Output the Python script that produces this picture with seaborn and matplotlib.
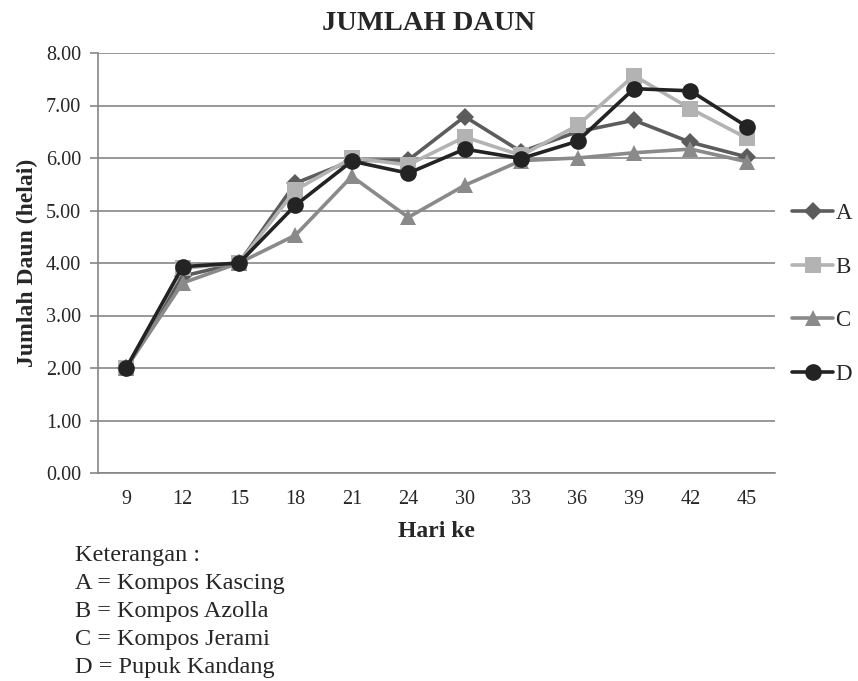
import matplotlib
matplotlib.use('Agg')
import pandas as pd
import seaborn as sns
import matplotlib.pyplot as plt
from matplotlib.ticker import FormatStrFormatter, MultipleLocator

# data
hari = ['9', '12', '15', '18', '21', '24', '30', '33', '36', '39', '42', '45']
a_vals = [2.00, 3.75, 4.00, 5.52, 5.95, 5.96, 6.79, 6.12, 6.50, 6.72, 6.30, 6.02]
b_vals = [2.00, 3.90, 4.00, 5.39, 6.00, 5.87, 6.40, 6.05, 6.62, 7.57, 6.94, 6.38]
c_vals = [2.00, 3.62, 4.00, 4.53, 5.65, 4.87, 5.48, 5.95, 6.00, 6.10, 6.17, 5.93]
d_vals = [2.00, 3.93, 4.00, 5.10, 5.94, 5.71, 6.17, 5.99, 6.32, 7.32, 7.28, 6.60]
series = ['A', 'B', 'C', 'D']
keterangan = ['Keterangan :', 'A = Kompos Kascing', 'B = Kompos Azolla',
              'C = Kompos Jerami', 'D = Pupuk Kandang']

df = pd.DataFrame({
    'Hari': hari * 4,
    'Jumlah': a_vals + b_vals + c_vals + d_vals,
    'Perlakuan': [s for s in series for _ in hari],
})

colors = {'A': '#5c5c5c', 'B': '#b3b3b3', 'C': '#8a8a8a', 'D': '#232323'}
markers = {'A': 'D', 'B': 's', 'C': '^', 'D': 'o'}
msizes = {'A': 9.5, 'B': 11, 'C': 11.5, 'D': 12}

sns.set_style('white')
plt.rcParams['font.family'] = ['Liberation Serif', 'DejaVu Serif']

fig = plt.figure(figsize=(8.58, 6.81), dpi=100)
ax = fig.add_axes([98/858, 1 - 473/681, (775-98)/858, (473-53)/681])

for s in series:
    sub = df[df['Perlakuan'] == s]
    sns.lineplot(data=sub, x='Hari', y='Jumlah', ax=ax, color=colors[s],
                 marker=markers[s], markersize=msizes[s], linewidth=2.6,
                 markeredgewidth=0, markeredgecolor=colors[s], label=s, sort=False)

ax.set_xlim(-0.5, len(hari) - 0.5)
ax.set_ylim(0, 8)
ax.yaxis.set_major_locator(MultipleLocator(1))
ax.yaxis.set_major_formatter(FormatStrFormatter('%.2f'))
ax.yaxis.grid(True, color='#868686', linewidth=1.2)
ax.set_axisbelow(True)
for sp in ['top', 'right']:
    ax.spines[sp].set_visible(False)
for sp in ['left', 'bottom']:
    ax.spines[sp].set_color('#868686')
    ax.spines[sp].set_linewidth(1.2)
ax.tick_params(axis='y', length=6, width=1.2, color='#868686', labelsize=14.5, pad=6, left=True)
ax.tick_params(axis='x', length=0, labelsize=14.5, pad=12)

ax.set_xlabel('Hari ke', fontsize=17, fontweight='bold', labelpad=9)
ax.set_ylabel('Jumlah Daun (helai)', fontsize=17, fontweight='bold', labelpad=6)
fig.text(0.5, 1 - 30/681, 'JUMLAH DAUN', ha='center', va='baseline',
         fontsize=20.5, fontweight='bold')

handles, labels = ax.get_legend_handles_labels()
ax.legend(handles, labels, loc='center left', bbox_to_anchor=(792/858, 1 - 294/681),
          bbox_transform=fig.transFigure, frameon=False, fontsize=16.5,
          handlelength=1.8, handletextpad=0.1, labelspacing=1.42,
          borderpad=0, borderaxespad=0)

for i, line in enumerate(keterangan):
    fig.text(75/858, 1 - (561 + 28*i)/681, line, ha='left', va='baseline', fontsize=17.5)

fig.savefig('out.png', dpi=100)
